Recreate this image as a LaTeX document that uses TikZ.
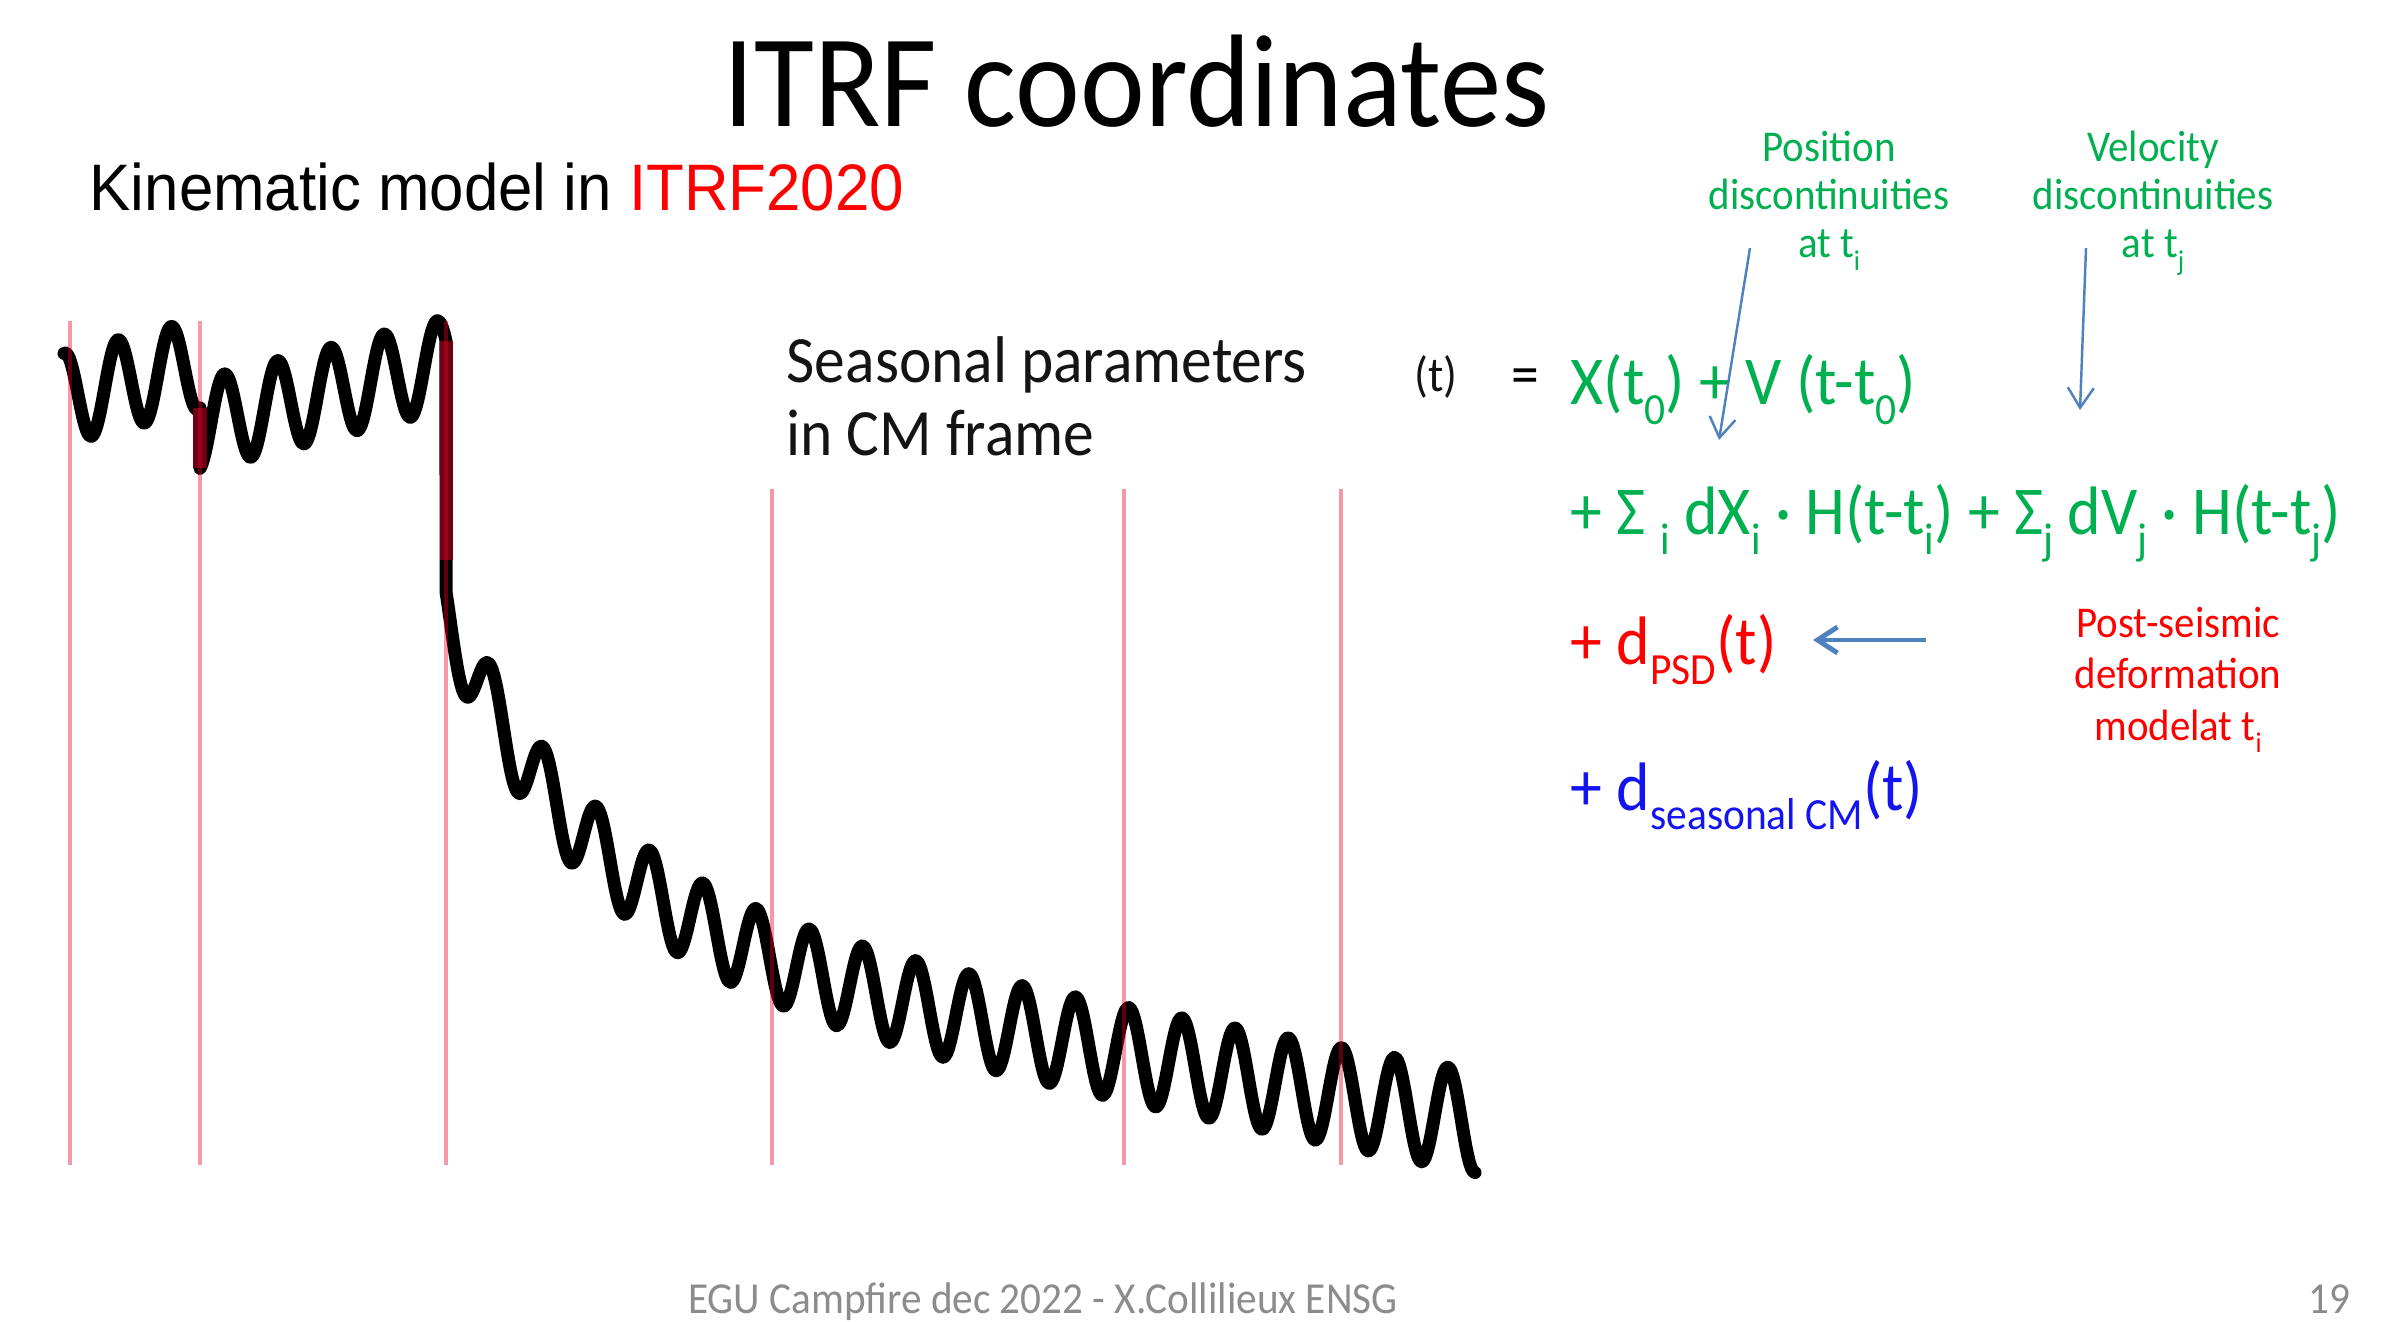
\documentclass[tikz,border=0pt]{standalone}
\usepackage{fontspec}
\setmainfont{Carlito}[FakeStretch=0.93]
\newfontfamily\arialfont{Liberation Sans}[FakeStretch=0.94]
\usepackage{tikz}
\usetikzlibrary{arrows.meta}
\usetikzlibrary{positioning}
\definecolor{EqGreen}{RGB}{0,176,80}
\definecolor{EqRed}{RGB}{255,0,0}
\definecolor{EqBlue}{RGB}{20,20,240}
\definecolor{LinkBlue}{RGB}{79,129,189}
\definecolor{DiscRed}{RGB}{230,0,40}
\definecolor{DropRed}{RGB}{110,0,20}
\definecolor{FootGray}{RGB}{140,140,140}
\definecolor{TxtDark}{RGB}{20,20,20}
\newcommand{\lowsub}[1]{\raisebox{-0.28em}{\scalebox{0.65}{#1}}}
\tikzset{
	series/.style={line width=3.7pt, line cap=round, line join=round, draw=black},
	jump/.style={line width=3.7pt, draw=DropRed},
	epoch/.style={line width=1.15pt, draw=DiscRed, opacity=0.4},
	txt/.style={inner sep=0, anchor=base west},
	eqn/.style={txt, font=\fontsize{19.5}{23}\selectfont},
	note/.style={inner sep=0, align=center, anchor=base, font=\fontsize{12.5}{13.7}\selectfont},
	link/.style={draw=LinkBlue, line width=0.7pt, -{Straight Barb[length=2mm, width=2.6mm]}}
}

\begin{document}
\begin{tikzpicture}[x=0.01cm, y=-0.01cm]
		\useasboundingbox (0,0) rectangle (2397,1322);
		% headings
		\node[txt, font=\fontsize{37.5}{45}\selectfont] (title) at (723,127) {ITRF coordinates};
		\node[txt, font=\arialfont\fontsize{18.7}{22}\selectfont] (model) at (89,211) {Kinematic model in \textcolor{EqRed}{ITRF2020}};
		
		% station time series (period 53.2 -> 6.767 deg per unit)
		\draw[series] plot[domain=64:200, samples=80] (\x, {388-0.25*(\x-105)-45*cos(6.767*(\x-118))})
		-- plot[domain=200:446, samples=140] (\x, {415-0.25*(\x-240)-45*cos(6.767*(\x-118))})
		-- plot[domain=446:1475, samples=560] (\x, {927-315*exp(-(\x-446)/140)+0.19*(\x-446)-(40+0.01*(\x-446))*cos(6.767*(\x-118))});
		\draw[jump] (200,408) -- (200,468);
		\draw[jump] (446,341) -- (446,560);
		\foreach \t in {70,200,446}
		\draw[epoch] (\t,321) -- (\t,1165);
		\foreach \t in {772,1124,1341}
		\draw[epoch] (\t,489) -- (\t,1165);
		
		% base anchor of a multi-line node = last line
		\node[txt, align=left, text=TxtDark, font=\fontsize{18.8}{21}\selectfont] (seas) at (786,456) {Seasonal parameters\\in CM frame};
		
		% model equation
		\node[txt, text=TxtDark, font=\fontsize{14}{16}\selectfont] (targ) at (1414,392) {(t)};
		\node[txt, text=black, font=\fontsize{17}{20}\selectfont] (eqsign) at (1511,395) {=};
		\node[eqn, text=EqGreen] (eqA) at (1570,405) {X(t\lowsub{0}) + V (t-t\lowsub{0})};
		\node[eqn, text=EqGreen] (eqB) at (1570,535) {+ Σ \lowsub{i} dX\lowsub{i} · H(t-t\lowsub{i}) + Σ\lowsub{j} dV\lowsub{j} · H(t-t\lowsub{j})};
		\node[eqn, text=EqRed] (eqC) at (1570,665) {+ d\lowsub{PSD}(t)};
		\node[eqn, text=EqBlue] (eqD) at (1570,810) {+ d\lowsub{seasonal CM}(t)};
		
		% annotations
		\node[note, text=EqGreen] (posLbl) at (1829,258) {Position\\discontinuities\\at t\lowsub{i}};
		\node[note, text=EqGreen] (velLbl) at (2153,258) {Velocity\\discontinuities\\at t\lowsub{j}};
		\node[note, text=EqRed, font=\fontsize{12.5}{14.6}\selectfont] (psdLbl) at (2178,740) {Post-seismic\\deformation\\modelat t\lowsub{i}};
		\coordinate (posTail) at (1750,248);
		\coordinate (posTip) at (1719,440);
		\coordinate (velTail) at (2086,248);
		\coordinate (velTip) at (2080,410);
		\coordinate (psdTail) at (1926,640);
		\coordinate (psdTip) at (1813,640);
		\draw[link] (posTail) -- (posTip);
		\draw[link] (velTail) -- (velTip);
		\draw[link, line width=1.4pt] (psdTail) -- (psdTip);
		
		% footer
		\node[inner sep=0, anchor=base, text=FootGray, font=\fontsize{12.6}{15}\selectfont] (foot) at (1043,1313) {EGU Campfire dec 2022 - X.Collilieux ENSG};
		\node[inner sep=0, anchor=base east, text=FootGray, font=\fontsize{12.6}{15}\selectfont] (pgno) at (2351,1313) {19};
	\end{tikzpicture}
\end{document}
